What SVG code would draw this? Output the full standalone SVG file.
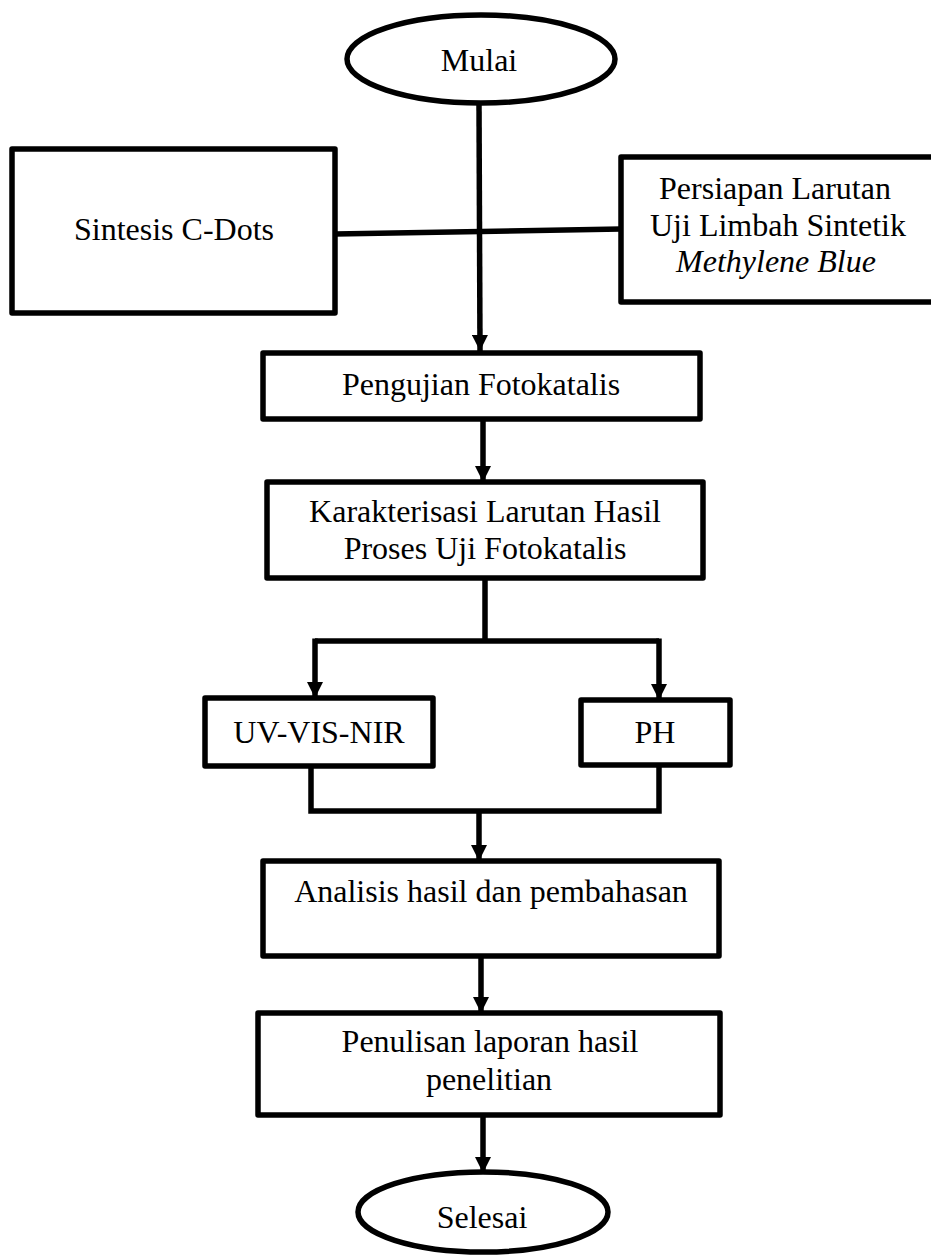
<svg xmlns="http://www.w3.org/2000/svg" width="931" height="1255" viewBox="0 0 931 1255">
<style>
.box{fill:#fff;stroke:#000;stroke-width:5.5;stroke-linejoin:round}
.ln{fill:none;stroke:#000;stroke-width:5.5}
.t{font-family:'Liberation Serif','DejaVu Serif',serif;font-size:32px;fill:#000;text-anchor:middle}
</style>
<defs>
<marker id="ah" markerUnits="userSpaceOnUse" markerWidth="16" markerHeight="16" viewBox="0 0 16 16" refX="16" refY="8" orient="auto">
<path d="M0,0 L16,8 L0,16 Z" fill="#000"/>
</marker>
</defs>
<rect width="931" height="1255" fill="#fff"/>
<g id="connectors">
<line class="ln" x1="479" y1="103" x2="480" y2="351" marker-end="url(#ah)"/>
<line class="ln" x1="335" y1="234" x2="621" y2="229"/>
<line class="ln" x1="483" y1="419" x2="483" y2="482" marker-end="url(#ah)"/>
<line class="ln" x1="485" y1="578" x2="485" y2="641"/>
<polyline class="ln" points="315,641 659,641"/>
<line class="ln" x1="315" y1="638.5" x2="315" y2="698" marker-end="url(#ah)"/>
<line class="ln" x1="659" y1="638.5" x2="659" y2="700" marker-end="url(#ah)"/>
<polyline class="ln" points="311,766 311,811 659,811 659,765"/>
<line class="ln" x1="479" y1="811" x2="479" y2="861" marker-end="url(#ah)"/>
<line class="ln" x1="481" y1="956" x2="481" y2="1013" marker-end="url(#ah)"/>
<line class="ln" x1="483" y1="1115" x2="483" y2="1173" marker-end="url(#ah)"/>
</g>
<g id="mulai">
<ellipse class="box" cx="481" cy="59" rx="134" ry="44"/>
<text class="t" x="479" y="71">Mulai</text>
</g>
<g id="sintesis">
<rect class="box" x="12" y="149" width="323" height="164"/>
<text class="t" x="174" y="240">Sintesis C-Dots</text>
</g>
<g id="persiapan">
<rect class="box" x="621" y="157" width="330" height="145"/>
<text class="t" x="775" y="199">Persiapan Larutan</text>
<text class="t" x="778" y="236">Uji Limbah Sintetik</text>
<text class="t" x="776" y="272" font-style="italic">Methylene Blue</text>
</g>
<g id="pengujian">
<rect class="box" x="263" y="353" width="437" height="66"/>
<text class="t" x="481" y="395">Pengujian Fotokatalis</text>
</g>
<g id="karakterisasi">
<rect class="box" x="267" y="482" width="436" height="96"/>
<text class="t" x="485" y="522">Karakterisasi Larutan Hasil</text>
<text class="t" x="485" y="559">Proses Uji Fotokatalis</text>
</g>
<g id="uvvis">
<rect class="box" x="205" y="698" width="228" height="68"/>
<text class="t" x="319" y="743">UV-VIS-NIR</text>
</g>
<g id="ph">
<rect class="box" x="581" y="700" width="149" height="65"/>
<text class="t" x="655" y="743">PH</text>
</g>
<g id="analisis">
<rect class="box" x="263" y="861" width="456" height="95"/>
<text class="t" x="491" y="902">Analisis hasil dan pembahasan</text>
</g>
<g id="penulisan">
<rect class="box" x="258" y="1013" width="462" height="102"/>
<text class="t" x="490" y="1052">Penulisan laporan hasil</text>
<text class="t" x="489" y="1090">penelitian</text>
</g>
<g id="selesai">
<ellipse class="box" cx="483" cy="1212" rx="125" ry="40"/>
<text class="t" x="482" y="1228">Selesai</text>
</g>
</svg>
